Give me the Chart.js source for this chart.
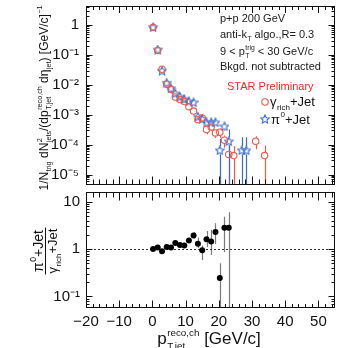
<!DOCTYPE html>
<html><head><meta charset="utf-8">
<script src="https://cdn.jsdelivr.net/npm/chart.js@4.4.1/dist/chart.umd.min.js"></script>
<style>
html,body{margin:0;padding:0;background:#fff;width:341px;height:348px;overflow:hidden}
#wrap{position:relative;width:341px;height:348px}
canvas{position:absolute;left:0}
#cTop{top:0}
#cBot{top:188px}
</style></head><body>
<div id="wrap"><canvas id="cTop" width="341" height="190"></canvas><canvas id="cBot" width="341" height="160"></canvas></div>
<script>
// ---------------- data ----------------
const binCenters = [0.2, 1.6, 2.9, 4.3, 5.6, 6.9, 8.3, 9.6, 11.0, 12.4, 13.7, 15.0, 16.3, 17.7, 19.0, 20.3, 21.7, 23.0];

const piX   = [0.2, 1.6, 2.9, 4.3, 5.6, 6.9, 8.3, 9.6, 11.0, 12.4, 13.7, 15.0, 16.3, 17.7, 19.0, 20.3, 21.7, 23.0, 26.9, 28.3];
const piY   = [0.84, 0.151, 0.0295, 0.0117, 0.0076, 0.0052, 0.0040, 0.0033, 0.0028, 0.0026, 8.7e-4, 7.2e-4, 5.5e-4, 5.6e-4, 5.6e-4, 6.5e-5, 4.1e-4, 1.3e-4, 6.5e-5, 6.5e-5];
const piErr = [0.02, 0.004, 0.0012, 0.0005, 0.0004, 0.0003, 0.0003, 0.0003, 0.0003, 0.0003, 1.2e-4, 1.1e-4, 1.0e-4, 1.0e-4, 1.2e-4, 9e-5, 1.2e-4, 1.9e-4, 1.1e-4, 1.1e-4];

const gamX   = [0.2, 1.6, 2.9, 4.3, 5.6, 6.9, 8.3, 9.6, 11.0, 12.4, 13.7, 15.0, 16.3, 17.7, 19.0, 20.3, 21.7, 23.0, 24.5, 31.1, 33.8];
const gamY   = [0.84, 0.141, 0.033, 0.0105, 0.0071, 0.0039, 0.0032, 0.00275, 0.00186, 0.00132, 6.8e-4, 7.8e-4, 3.2e-4, 3.9e-4, 2.45e-4, 2.6e-4, 1.4e-4, 4.7e-5, 4.3e-5, 1.3e-4, 4.3e-5];
const gamErr = [0.02, 0.004, 0.0012, 0.0005, 0.0004, 0.0003, 0.0003, 0.0003, 0.0003, 0.00025, 1.5e-4, 1.3e-4, 1.0e-4, 1.1e-4, 8e-5, 9e-5, 6e-5, 5e-5, 4.5e-5, 6e-5, 5e-5];

const ratioY  = [1.0, 1.08, 0.90, 1.11, 1.08, 1.34, 1.22, 1.19, 1.52, 1.94, 1.30, 0.94, 1.61, 1.45, 2.28, 0.245, 2.82, 2.82];
const ratioLo = [0.96, 1.03, 0.86, 1.06, 1.03, 1.27, 1.15, 1.11, 1.40, 1.67, 1.05, 0.59, 1.10, 0.75, 1.28, 0.0, 0.87, 0.0];
const ratioHi = [1.04, 1.13, 0.94, 1.16, 1.13, 1.41, 1.29, 1.27, 1.65, 2.28, 1.75, 1.19, 2.39, 2.57, 3.51, 0.50, 4.8, 6.0];

const topTickValues = [1e-5, 1e-4, 1e-3, 1e-2, 1e-1, 1];
const topTickLabels = ['10\u207B\u2075', '10\u207B\u2074', '10\u207B\u00B3', '10\u207B\u00B2', '10\u207B\u00B9', '1'];
const botTickValues = [0.1, 1, 10];
const botTickLabels = ['10\u207B\u00B9', '1', '10'];
const xTickValues = [-20, -10, 0, 10, 20, 30, 40, 50];
const xTickLabels = ['\u221220', '\u221210', '0', '10', '20', '30', '40', '50'];

// ---------------- style ----------------
const FONT = '"Liberation Sans", Arial, Helvetica, sans-serif';
const RED = '#ee5a48';
const BLUE = '#3c6cc8';
Chart.defaults.font.family = FONT;

function makeStar(color, size) {
  const c = document.createElement('canvas'); c.width = c.height = size;
  const g = c.getContext('2d'); g.strokeStyle = color; g.lineWidth = 1.1;
  const cx = size / 2, cy = size / 2 + 0.4, R = size / 2 - 0.6, r = R * 0.48;
  g.beginPath();
  for (let i = 0; i < 10; i++) {
    const a = -Math.PI / 2 + i * Math.PI / 5, rr = i % 2 ? r : R;
    const x = cx + rr * Math.cos(a), y = cy + rr * Math.sin(a);
    i ? g.lineTo(x, y) : g.moveTo(x, y);
  }
  g.closePath(); g.stroke(); return c;
}
const starImg = makeStar(BLUE, 10);

// rich text: segments {t} normal, {sup, sub} scripts
function measureSegs(ctx, segs, size, sc) {
  let w = 0;
  for (const s of segs) {
    if (s.t !== undefined) { ctx.font = size + 'px ' + FONT; w += ctx.measureText(s.t).width; }
    else {
      ctx.font = (size * sc) + 'px ' + FONT;
      w += Math.max(s.sup ? ctx.measureText(s.sup).width : 0, s.sub ? ctx.measureText(s.sub).width : 0) + 0.5;
    }
  }
  return w;
}
function drawSegs(ctx, segs, x, y, size, color, align, sc) {
  sc = sc || 0.62;
  const w = measureSegs(ctx, segs, size, sc);
  let cx = align === 'center' ? x - w / 2 : (align === 'right' ? x - w : x);
  ctx.fillStyle = color; ctx.textAlign = 'left'; ctx.textBaseline = 'alphabetic';
  for (const s of segs) {
    if (s.t !== undefined) {
      ctx.font = size + 'px ' + FONT; ctx.fillText(s.t, cx, y); cx += ctx.measureText(s.t).width;
    } else {
      ctx.font = (size * sc) + 'px ' + FONT;
      let ww = 0;
      if (s.sup) { ctx.fillText(s.sup, cx + 0.5, y - size * 0.48); ww = Math.max(ww, ctx.measureText(s.sup).width); }
      if (s.sub) { ctx.fillText(s.sub, cx + 0.5, y + size * 0.28); ww = Math.max(ww, ctx.measureText(s.sub).width); }
      cx += ww + 0.5;
    }
  }
  return w;
}

function drawFrameTicks(chart, c) {
  const ctx = chart.ctx, a = chart.chartArea;
  const L = Math.round(a.left) + 0.5, R = Math.round(a.right) - 0.5, T = Math.round(a.top) + 0.5, B = Math.round(a.bottom) - 0.5;
  ctx.save(); ctx.strokeStyle = '#111'; ctx.lineWidth = 1; ctx.setLineDash([]);
  ctx.strokeRect(L, T, R - L, B - T);
  ctx.beginPath();
  const xs = chart.scales.x;
  for (let v = xs.min; v <= xs.max; v += 2) {
    const major = Math.abs(v % 10) < 1e-9;
    const px = Math.round(xs.getPixelForValue(v)) + 0.5;
    if (px <= L || px >= R) continue;
    ctx.moveTo(px, B); ctx.lineTo(px, B - (major ? c.xbMaj : c.xbMin));
    ctx.moveTo(px, T); ctx.lineTo(px, T + (major ? c.xtMaj : c.xtMin));
  }
  const ys = chart.scales.y;
  const d0 = Math.floor(Math.log10(ys.min)), d1 = Math.ceil(Math.log10(ys.max));
  for (let d = d0; d <= d1; d++) for (let m = 1; m < 10; m++) {
    const v = m * Math.pow(10, d);
    if (v < ys.min || v > ys.max) continue;
    const py = Math.round(ys.getPixelForValue(v)) + 0.5;
    const len = m === 1 ? c.yMaj : c.yMin;
    ctx.moveTo(L, py); ctx.lineTo(L + len, py);
    ctx.moveTo(R, py); ctx.lineTo(R - len, py);
  }
  ctx.stroke(); ctx.restore();
}

const errorBarPlugin = {
  id: 'errbars',
  beforeDatasetsDraw(chart) {
    const ctx = chart.ctx, area = chart.chartArea;
    chart.data.datasets.forEach((ds, di) => {
      if (!ds.errLo) return;
      const meta = chart.getDatasetMeta(di);
      const ys = chart.scales[meta.yAxisID];
      ctx.save(); ctx.strokeStyle = ds.errColor; ctx.lineWidth = ds.errWidth || 1;
      meta.data.forEach((pt, i) => {
        const lo = ds.errLo[i], hi = ds.errHi[i];
        const yHi = hi >= ys.max ? area.top : ys.getPixelForValue(hi);
        const yLo = lo <= ys.min ? area.bottom : ys.getPixelForValue(lo);
        const x = Math.round(pt.x) + 0.5, gap = ds.errGap || 0;
        ctx.beginPath();
        if (yHi < pt.y - gap) { ctx.moveTo(x, yHi); ctx.lineTo(x, pt.y - gap); }
        if (yLo > pt.y + gap) { ctx.moveTo(x, pt.y + gap); ctx.lineTo(x, yLo); }
        ctx.stroke();
      });
      ctx.restore();
    });
  }
};

// ---------------- top panel ----------------
const topDecor = {
  id: 'topDecor',
  afterDraw(chart) {
    drawFrameTicks(chart, {xbMaj: 8, xbMin: 5, xtMaj: 6.5, xtMin: 3.5, yMaj: 6, yMin: 3});
    const ctx = chart.ctx;
    // y title
    ctx.save(); ctx.translate(48, 98); ctx.rotate(-Math.PI / 2);
    drawSegs(ctx, [{t: '1/N'}, {sub: 'trig'}, {t: ' dN'}, {sup: '2', sub: 'jets'}, {t: '/(dp'}, {sup: 'reco,ch', sub: 'T,jet'},
      {t: ' d\u03B7'}, {sub: 'jet'}, {t: ') [GeV/c]'}, {sup: '\u22121'}], 0, 0, 12, '#111', 'center', 0.6);
    ctx.restore();
    // text box
    ctx.save();
    const X = 220, C = '#1a1a1a';
    drawSegs(ctx, [{t: 'p+p 200 GeV'}], X, 22, 11, C, 'left');
    drawSegs(ctx, [{t: 'anti-k'}, {sub: 'T'}, {t: ' algo.,R= 0.3'}], X, 38, 11, C, 'left');
    drawSegs(ctx, [{t: '9 < p'}, {sup: 'trig', sub: 'T'}, {t: ' < 30 GeV/c'}], X, 55, 11, C, 'left');
    drawSegs(ctx, [{t: 'Bkgd. not subtracted'}], X, 70, 11, C, 'left');
    drawSegs(ctx, [{t: 'STAR Preliminary'}], 227, 89.5, 11, '#f02828', 'left');
    // legend
    ctx.strokeStyle = RED; ctx.lineWidth = 1.1;
    ctx.beginPath(); ctx.arc(265, 102, 3.2, 0, Math.PI * 2); ctx.stroke();
    drawSegs(ctx, [{t: '\u03B3'}, {sub: 'rich'}, {t: '+Jet'}], 270, 106, 13, '#111', 'left', 0.62);
    ctx.drawImage(starImg, 260, 114);
    drawSegs(ctx, [{t: '\u03C0'}, {sup: '0'}, {t: '+Jet'}], 271, 123.5, 13, '#111', 'left', 0.62);
    ctx.restore();
  }
};

new Chart(document.getElementById('cTop'), {
  type: 'scatter',
  data: {
    datasets: [
      { label: '\u03B3rich+Jet', data: gamX.map((x, i) => ({x, y: gamY[i]})),
        pointStyle: 'circle', pointRadius: 3.2, borderWidth: 1.1, borderColor: RED, backgroundColor: 'rgba(255,255,255,0)',
        errLo: gamY.map((y, i) => y - gamErr[i]), errHi: gamY.map((y, i) => y + gamErr[i]), errColor: RED, errWidth: 1.2, errGap: 3.5 },
      { label: '\u03C00+Jet', data: piX.map((x, i) => ({x, y: piY[i]})),
        pointStyle: starImg, pointRadius: 4, borderColor: BLUE, backgroundColor: BLUE,
        errLo: piY.map((y, i) => y - piErr[i]), errHi: piY.map((y, i) => y + piErr[i]), errColor: BLUE, errWidth: 1.2, errGap: 4 }
    ]
  },
  options: {
    responsive: false, animation: false, devicePixelRatio: 1,
    layout: {padding: {top: 6, right: 6, bottom: 2, left: 0}},
    plugins: {legend: {display: false}, tooltip: {enabled: false}},
    scales: {
      x: {type: 'linear', min: -20, max: 55, display: false},
      y: {type: 'logarithmic', min: 4.5e-6, max: 4.3,
        grid: {display: false, drawTicks: false}, border: {display: false},
        ticks: {font: {family: FONT, size: 15}, color: '#111', padding: 7, autoSkip: false,
          callback: (v, i) => topTickLabels[i]},
        afterBuildTicks: s => { s.ticks = topTickValues.map(v => ({value: v})); },
        afterFit: s => { s.width = 86; s.paddingTop = 0; s.paddingBottom = 0; }
      }
    }
  },
  plugins: [errorBarPlugin, topDecor]
});

// ---------------- ratio panel ----------------
const botDecor = {
  id: 'botDecor',
  beforeDatasetsDraw(chart) {
    const ctx = chart.ctx, a = chart.chartArea, ys = chart.scales.y;
    const py = Math.round(ys.getPixelForValue(1)) + 0.5;
    ctx.save(); ctx.strokeStyle = '#333'; ctx.lineWidth = 1; ctx.setLineDash([2, 2]);
    ctx.beginPath(); ctx.moveTo(a.left, py); ctx.lineTo(a.right, py); ctx.stroke(); ctx.restore();
  },
  afterDraw(chart) {
    drawFrameTicks(chart, {xbMaj: 7, xbMin: 3.5, xtMaj: 8, xtMin: 5, yMaj: 6, yMin: 3});
    const ctx = chart.ctx;
    // y title: fraction
    ctx.save(); ctx.translate(45.5, 251 - 188); ctx.rotate(-Math.PI / 2);
    const wn = drawSegs(ctx, [{t: '\u03C0'}, {sup: '0'}, {t: '+Jet'}], 0, -2.5, 14, '#111', 'center', 0.62);
    const wd = drawSegs(ctx, [{t: '\u03B3'}, {sub: 'rich'}, {t: '+Jet'}], 0, 11.5, 13, '#111', 'center', 0.62);
    const lw = Math.max(wn, wd) + 2;
    ctx.strokeStyle = '#111'; ctx.lineWidth = 1; ctx.beginPath(); ctx.moveTo(-lw / 2, 0); ctx.lineTo(lw / 2, 0); ctx.stroke();
    ctx.restore();
    // x title
    ctx.save();
    drawSegs(ctx, [{t: 'p'}, {sup: 'reco,ch', sub: 'T,jet'}, {t: ' [GeV/c]'}], 209, 156, 17, '#111', 'center', 0.58);
    ctx.restore();
  }
};

new Chart(document.getElementById('cBot'), {
  type: 'scatter',
  data: {
    datasets: [
      { label: 'ratio', data: binCenters.map((x, i) => ({x, y: ratioY[i]})),
        pointStyle: 'circle', pointRadius: 3, borderWidth: 0, backgroundColor: '#000', borderColor: '#000',
        errLo: ratioLo, errHi: ratioHi, errColor: '#7a7a7a', errWidth: 1.2, errGap: 0 }
    ]
  },
  options: {
    responsive: false, animation: false, devicePixelRatio: 1,
    layout: {padding: {top: 1, right: 6, bottom: 0, left: 0}},
    plugins: {legend: {display: false}, tooltip: {enabled: false}},
    scales: {
      x: {type: 'linear', min: -20, max: 55, position: 'bottom',
        grid: {display: false, drawTicks: false}, border: {display: false},
        ticks: {font: {family: FONT, size: 15}, color: '#111', padding: 5, maxRotation: 0, autoSkip: false,
          callback: (v, i) => xTickLabels[i]},
        afterBuildTicks: s => { s.ticks = xTickValues.map(v => ({value: v})); },
        afterFit: s => { s.height = 40; s.paddingLeft = 0; s.paddingRight = 0; }
      },
      y: {type: 'logarithmic', min: 0.057, max: 16,
        grid: {display: false, drawTicks: false}, border: {display: false},
        ticks: {font: {family: FONT, size: 15}, color: '#111', padding: 6, autoSkip: false,
          callback: (v, i) => botTickLabels[i]},
        afterBuildTicks: s => { s.ticks = botTickValues.map(v => ({value: v})); },
        afterFit: s => { s.width = 86; s.paddingTop = 0; s.paddingBottom = 0; }
      }
    }
  },
  plugins: [errorBarPlugin, botDecor]
});
</script>
</body></html>
